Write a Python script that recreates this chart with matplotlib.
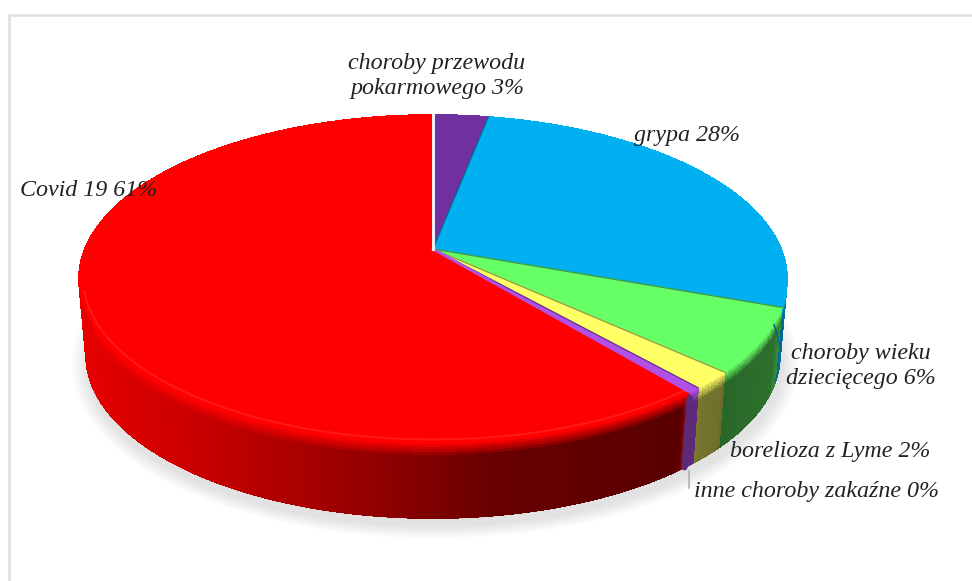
import numpy as np
import matplotlib
matplotlib.use("Agg")
import matplotlib.pyplot as plt
from matplotlib.collections import PolyCollection

# Slices, clockwise from 12 o'clock
names = ["choroby przewodu\npokarmowego", "grypa", "choroby wieku\ndziecięcego",
         "borelioza z Lyme", "inne choroby zakaźne", "Covid 19"]
values = [3.0, 27.6, 6.3, 1.7, 0.49, 60.9]
colors = ["#7030a0", "#00b0f0", "#66ff66", "#ffff66", "#b050e6", "#ff0000"]

label_x = [437, 687, 861, 830, 816, 89]
label_y = [76, 136, 366, 452, 491, 190]

# Pie geometry in pixels, perspective tilt k
cx, cy = 433, 249
a, b, k = 158.5, 348, 0.183
side_rx, side_cy, side_ry = 0.98, 355, 0.994
top_cy = 279

# Side brightness by pixel x
shade_x = [80, 227, 360, 493, 620, 683, 685, 698, 700, 722, 724, 775, 787]
shade_f = [0.90, 0.75, 0.59, 0.41, 0.37, 0.35, 0.52, 0.52, 0.46, 0.44, 0.40, 0.44, 0.66]


def rim(theta):
    u, v = np.sin(theta), np.cos(theta)
    d = 1 + k * v
    return cx + b * u / d, cy - a * v / d


def lower(x, y):
    return cx + (x - cx) * side_rx, side_cy + (y - top_cy) * side_ry


plt.rcParams['font.family'] = ['Liberation Serif', 'DejaVu Serif']
fig = plt.figure(figsize=(9.72, 5.81), dpi=100)
ax = fig.add_axes([0, 0, 1, 1])
ax.set_xlim(0, 972)
ax.set_ylim(581, 0)
ax.axis('off')

# Frame
ax.plot([8.5, 8.5, 972], [581, 15, 15], color='#dedede', lw=1.8, solid_joinstyle='miter')

# Soft shadow
t = np.linspace(0, 2 * np.pi, 300)
for i, grey in enumerate(np.linspace(0.995, 0.885, 14)):
    rx = 364 - i * 1.3
    ry = 174 - i * 1.0
    ax.fill(cx + 2 + rx * np.cos(t), 365 + ry * np.sin(t), color=str(grey), lw=0, zorder=1)

shares = np.array(values) / sum(values)
edges = np.concatenate([[0], np.cumsum(shares)]) * 2 * np.pi

# Side wall, in thin strips
polys, fcs = [], []
bands = np.array([0, 0.03, 0.06, 0.09, 0.13, 0.17, 1.0])
for i, col in enumerate(colors):
    base = np.array(matplotlib.colors.to_rgb(col))
    n = max(3, int((edges[i + 1] - edges[i]) * 90))
    th = np.linspace(edges[i], edges[i + 1], n + 1)
    for t0, t1 in zip(th[:-1], th[1:]):
        x0, y0 = rim(t0)
        x1, y1 = rim(t1)
        xb0, yb0 = lower(x0, y0)
        xb1, yb1 = lower(x1, y1)
        f = np.interp((x0 + x1) / 2, shade_x, shade_f)
        for s0, s1 in zip(bands[:-1], bands[1:]):
            polys.append([(x0 + (xb0 - x0) * s0, y0 + (yb0 - y0) * s0),
                          (x1 + (xb1 - x1) * s0, y1 + (yb1 - y1) * s0),
                          (x1 + (xb1 - x1) * s1, y1 + (yb1 - y1) * s1),
                          (x0 + (xb0 - x0) * s1, y0 + (yb0 - y0) * s1)])
            mix = min(1, s0 / 0.17)
            fcs.append(base * (1 + (f - 1) * mix))
ax.add_collection(PolyCollection(polys, facecolors=fcs, edgecolors=fcs, linewidths=0.6,
                                 antialiaseds=False, zorder=2))

# Smooth the lower edge of the wall
for i, col in enumerate(colors):
    th = np.linspace(edges[i], edges[i + 1], 120)
    xt, yt = rim(th)
    xb, yb = lower(xt, yt)
    base = np.array(matplotlib.colors.to_rgb(col))
    for j in range(len(th) - 1):
        f = np.interp(xt[j], shade_x, shade_f)
        ax.plot(xb[j:j + 2], yb[j:j + 2], color=base * f, lw=1.0, zorder=2, solid_capstyle='round')

# The thin slice looks wider because of its bevel
x, y = rim(edges[5])
xb, yb = lower(x, y)
ax.plot([x, xb], [y + 6, yb], color=np.array(matplotlib.colors.to_rgb(colors[4])) * 0.52,
        lw=4.5, zorder=2.5, solid_capstyle='round')

# Top faces
for i, col in enumerate(colors):
    th = np.linspace(edges[i], edges[i + 1], 200)
    x, y = rim(th)
    ax.fill(np.r_[cx, x], np.r_[cy, y], color=col, lw=0.3, zorder=3)

# Light bevel along the front rim of the big slice
th = np.linspace(edges[5], edges[6], 300)
front = th[np.cos(th) < -0.25]
xf, yf = rim(front)
ax.plot(cx + (xf - cx) * 0.988, cy + (yf - cy) * 0.982, color='#ff2a2a', lw=1.4, zorder=4, alpha=0.6)

# Slice borders
for i in range(1, 5):
    x, y = rim(edges[i])
    dark = np.array(matplotlib.colors.to_rgb(colors[i])) * 0.6
    ax.plot([cx, x], [cy, y], color=dark, lw=0.9, zorder=5)
x, y = rim(edges[5])
ax.plot([cx, x], [cy, y], color=colors[4], lw=2.0, zorder=5)

# White gap between Covid and the first slice
x, y = rim(0.0)
ax.plot([cx, x], [cy, y], color='#f2eef4', lw=2.2, zorder=5)

# Leader line for the smallest slice
ax.plot([689, 689], [471, 488], color='#b0b0b0', lw=1.2, zorder=5)

# Labels
for name, val, lx, ly in zip(names, values, label_x, label_y):
    ax.text(lx, ly, f"{name} {val:.0f}%", ha='center', va='center', style='italic',
            fontsize=17.3, color='#222222', linespacing=1.3, zorder=6)

fig.savefig("out.png", dpi=100)
